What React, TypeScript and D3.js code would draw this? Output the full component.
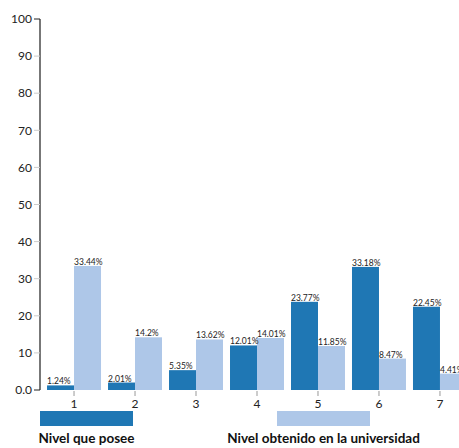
import React, { useEffect, useRef } from "react";
import * as d3 from "d3";

const categories = ["1", "2", "3", "4", "5", "6", "7"];
const poseeValues = [1.24, 2.01, 5.35, 12.01, 23.77, 33.18, 22.45];
const obtenidoValues = [33.44, 14.2, 13.62, 14.01, 11.85, 8.47, 4.41];
const seriesNames = ["Nivel que posee", "Nivel obtenido en la universidad"];
const seriesColors = ["#1f77b4", "#aec7e8"];
const yTicks = [0, 10, 20, 30, 40, 50, 60, 70, 80, 90, 100];

export default function App() {
  const ref = useRef<SVGSVGElement>(null);
  useEffect(() => {
    const svg = d3.select(ref.current);
    svg.selectAll("*").remove();
    const W = 459, H = 448;
    const x0 = d3.scaleBand().domain(categories).range([43.5, 470.5]).paddingInner(0.115).paddingOuter(0.058);
    const x1 = d3.scaleBand().domain(["a", "b"]).range([0, x0.bandwidth()]);
    const y = d3.scaleLinear().domain([0, 100]).range([390, 19]);
    const font = "Lato, 'Open Sans', sans-serif";

    const g = svg.append("g");
    // bars
    const series = [poseeValues, obtenidoValues];
    const keys = ["a", "b"];
    series.forEach((vals, si) => {
      g.selectAll(`rect.s${si}`)
        .data(vals)
        .enter()
        .append("rect")
        .attr("x", (d, i) => (x0(categories[i]) as number) + (x1(keys[si]) as number))
        .attr("y", (d) => y(d))
        .attr("width", x1.bandwidth())
        .attr("height", (d) => y(0) - y(d))
        .attr("fill", seriesColors[si]);
    });
    series.forEach((vals, si) => {
      g.selectAll(`text.l${si}`)
        .data(vals)
        .enter()
        .append("text")
        .attr("x", (d, i) => (x0(categories[i]) as number) + (x1(keys[si]) as number))
        .attr("y", (d) => y(d) - 1)
        .attr("font-family", font)
        .attr("font-size", 8.5)
        .attr("fill", "#222")
        .text((d) => `${d}%`);
    });

    // y axis
    const ya = g.append("g").attr("transform", "translate(40,0)");
    ya.append("line").attr("x1", 0).attr("x2", 0).attr("y1", y(100)).attr("y2", y(0)).attr("stroke", "#777").attr("stroke-width", 2);
    yTicks.forEach((t) => {
      const dark = t === 0 || t === 100;
      ya.append("line").attr("x1", -6).attr("x2", 0).attr("y1", y(t)).attr("y2", y(t))
        .attr("stroke", dark ? "#222" : "#ccc").attr("stroke-width", 1);
      ya.append("text").attr("x", -8).attr("y", y(t)).attr("dy", "0.35em")
        .attr("text-anchor", "end").attr("font-family", font).attr("font-size", 12).attr("fill", "#222")
        .text(t === 0 ? "0.0" : String(t));
    });

    // x axis
    const xa = g.append("g").attr("transform", `translate(0,${y(0)})`);
    categories.forEach((c) => {
      const cx = (x0(c) as number) + x0.bandwidth() / 2;
      xa.append("line").attr("x1", cx).attr("x2", cx).attr("y1", 1).attr("y2", 6).attr("stroke", "#999");
      xa.append("text").attr("x", cx).attr("y", 18).attr("text-anchor", "middle")
        .attr("font-family", font).attr("font-size", 12).attr("fill", "#222").text(c);
    });

    // legend
    const legendX = [40, 277];
    seriesNames.forEach((n, i) => {
      svg.append("rect").attr("x", legendX[i]).attr("y", 411).attr("width", 93).attr("height", 15).attr("fill", seriesColors[i]);
      svg.append("text").attr("x", legendX[i] + 46.5).attr("y", 443).attr("text-anchor", "middle")
        .attr("font-family", font).attr("font-weight", "bold").attr("font-size", 13.5).attr("fill", "#111").text(n);
    });
  }, []);
  return (
    <svg ref={ref} width={459} height={448} style={{ position: "absolute", left: 0, top: 0, background: "#fff" }} />
  );
}
